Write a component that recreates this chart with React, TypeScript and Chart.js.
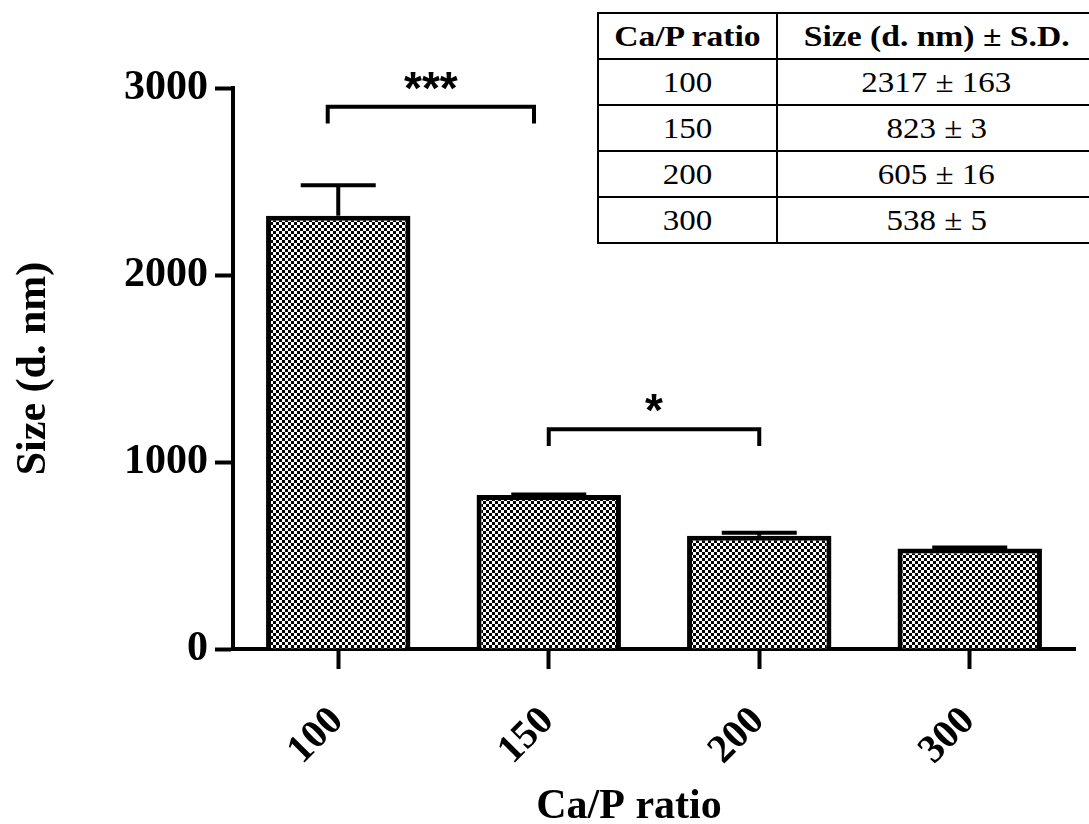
import React, { useEffect, useRef } from 'react';
import { Chart, registerables } from 'chart.js';

Chart.register(...registerables);

const categories = ['100', '150', '200', '300'];
const sizes = [2317, 823, 605, 538];
const sds = [163, 3, 16, 5];
const yTicks = [0, 1000, 2000, 3000];
const bracketFrom = [-0.05, 1];
const bracketTo = [0.93, 2];
const bracketLevel = [2900, 1175];
const bracketLabels = ['***', '*'];
const tableHeaders = ['Ca/P ratio', 'Size (d. nm) \u00b1 S.D.'];

const SERIF = '"Liberation Serif", "Times New Roman", serif';

export default function App() {
  const canvasRef = useRef<HTMLCanvasElement | null>(null);

  useEffect(() => {
    const canvas = canvasRef.current;
    if (!canvas) return;
    const ctx = canvas.getContext('2d')!;

    const pc = document.createElement('canvas');
    pc.width = 6;
    pc.height = 6;
    const g = pc.getContext('2d')!;
    g.fillStyle = '#fff';
    g.fillRect(0, 0, 6, 6);
    g.fillStyle = '#000';
    g.fillRect(0, 0, 3, 3);
    g.fillRect(3, 3, 3, 3);
    const pattern = ctx.createPattern(pc, 'repeat')!;

    const overlay = {
      id: 'overlay',
      afterDraw(chart: any) {
        const { ctx: c, scales, chartArea } = chart;
        const x = scales.x;
        const y = scales.y;
        c.save();
        c.strokeStyle = '#000';
        c.fillStyle = '#000';
        c.lineWidth = 4;
        // error bars (upper only)
        sizes.forEach((v, i) => {
          const cx = x.getPixelForValue(i);
          const top = y.getPixelForValue(v + sds[i]);
          const base = y.getPixelForValue(v);
          c.beginPath();
          c.moveTo(cx, base);
          c.lineTo(cx, top);
          c.stroke();
          c.beginPath();
          c.moveTo(cx - 37.5, top);
          c.lineTo(cx + 37.5, top);
          c.stroke();
        });
        // significance brackets
        bracketLabels.forEach((lab, i) => {
          const x1 = x.getPixelForValue(bracketFrom[i]);
          const x2 = x.getPixelForValue(bracketTo[i]);
          const yy = y.getPixelForValue(bracketLevel[i]);
          const yd = y.getPixelForValue(bracketLevel[i] - 90);
          c.lineJoin = 'miter';
          c.beginPath();
          c.moveTo(x1, yd);
          c.lineTo(x1, yy);
          c.lineTo(x2, yy);
          c.lineTo(x2, yd);
          c.stroke();
          c.font = 'bold 46px "Liberation Sans", Arial, sans-serif';
          c.textAlign = 'center';
          c.textBaseline = 'alphabetic';
          c.fillText(lab, (x1 + x2) / 2, yy - 3);
        });
        // rotated category labels
        c.font = `bold 40px ${SERIF}`;
        categories.forEach((lab, i) => {
          const px = x.getPixelForTick(i);
          c.save();
          c.translate(px - 1, chartArea.bottom + 66);
          c.rotate(-Math.PI / 4);
          c.textAlign = 'right';
          c.textBaseline = 'middle';
          c.fillText(lab, 0, 0);
          c.restore();
        });
        // x axis title
        c.font = `bold 42px ${SERIF}`;
        c.textAlign = 'center';
        c.textBaseline = 'alphabetic';
        c.fillText('Ca/P ratio', (x.left + x.right) / 2 - 25, 818);
        c.restore();
      },
    };

    const chart = new Chart(ctx, {
      type: 'bar',
      data: {
        labels: categories,
        datasets: [
          {
            data: sizes,
            backgroundColor: pattern as any,
            borderColor: '#000',
            borderWidth: 5,
            barPercentage: 0.686,
            categoryPercentage: 1,
          },
        ],
      },
      options: {
        animation: false,
        responsive: false,
        maintainAspectRatio: false,
        layout: { padding: { top: 88, right: 14, left: 0, bottom: 0 } },
        plugins: {
          legend: { display: false },
          tooltip: { enabled: false },
          title: { display: false },
        },
        scales: {
          x: {
            grid: {
              display: true,
              drawOnChartArea: false,
              drawTicks: true,
              tickLength: 20,
              tickWidth: 4,
              tickColor: '#000',
              offset: false,
            },
            border: { display: true, color: '#000', width: 4 },
            ticks: { display: false },
            afterFit: (s: any) => {
              s.height = 175;
            },
          },
          y: {
            min: 0,
            max: 3000,
            afterBuildTicks: (s: any) => {
              s.ticks = yTicks.map((v) => ({ value: v }));
            },
            grid: {
              drawOnChartArea: false,
              drawTicks: true,
              tickLength: 18,
              tickWidth: 4,
              tickColor: '#000',
            },
            border: { display: true, color: '#000', width: 4 },
            ticks: {
              color: '#000',
              padding: 7,
              font: { family: SERIF, weight: 'bold', size: 42 },
              callback: (v: any) => String(v),
            },
            title: {
              display: true,
              text: 'Size (d. nm)',
              color: '#000',
              font: { family: SERIF, weight: 'bold', size: 42 },
              padding: { top: 9, bottom: 0 },
            },
            afterFit: (s: any) => {
              s.width = 233;
            },
          },
        },
      },
      plugins: [overlay],
    });

    return () => {
      chart.destroy();
    };
  }, []);

  const cell: React.CSSProperties = {
    border: '2px solid #000',
    height: 44,
    padding: 0,
    textAlign: 'center',
    verticalAlign: 'middle',
    fontFamily: SERIF,
    fontSize: 30,
    lineHeight: '1',
    color: '#000',
  };
  const head: React.CSSProperties = { ...cell, fontWeight: 'bold', fontSize: 30 };
  const stretch = (s: number): React.CSSProperties => ({
    display: 'inline-block',
    transform: `scaleX(${s})`,
    whiteSpace: 'nowrap',
  });

  return (
    <div
      style={{
        position: 'absolute',
        left: 0,
        top: 0,
        width: 1089,
        height: 824,
        overflow: 'hidden',
        background: '#fff',
      }}
    >
      <canvas ref={canvasRef} width={1089} height={824} style={{ display: 'block' }} />
      <table
        style={{
          position: 'absolute',
          left: 597,
          top: 12,
          width: 500,
          borderCollapse: 'collapse',
          tableLayout: 'fixed',
          background: '#fff',
        }}
      >
        <colgroup>
          <col style={{ width: 179 }} />
          <col />
        </colgroup>
        <thead>
          <tr>
            <th style={head}>
              <span style={stretch(1.12)}>{tableHeaders[0]}</span>
            </th>
            <th style={head}>
              <span style={stretch(1.12)}>{tableHeaders[1]}</span>
            </th>
          </tr>
        </thead>
        <tbody>
          {categories.map((cat, i) => (
            <tr key={cat}>
              <td style={cell}>
                <span style={stretch(1.1)}>{cat}</span>
              </td>
              <td style={cell}>
                <span style={stretch(1.1)}>{`${sizes[i]} \u00b1 ${sds[i]}`}</span>
              </td>
            </tr>
          ))}
        </tbody>
      </table>
    </div>
  );
}
